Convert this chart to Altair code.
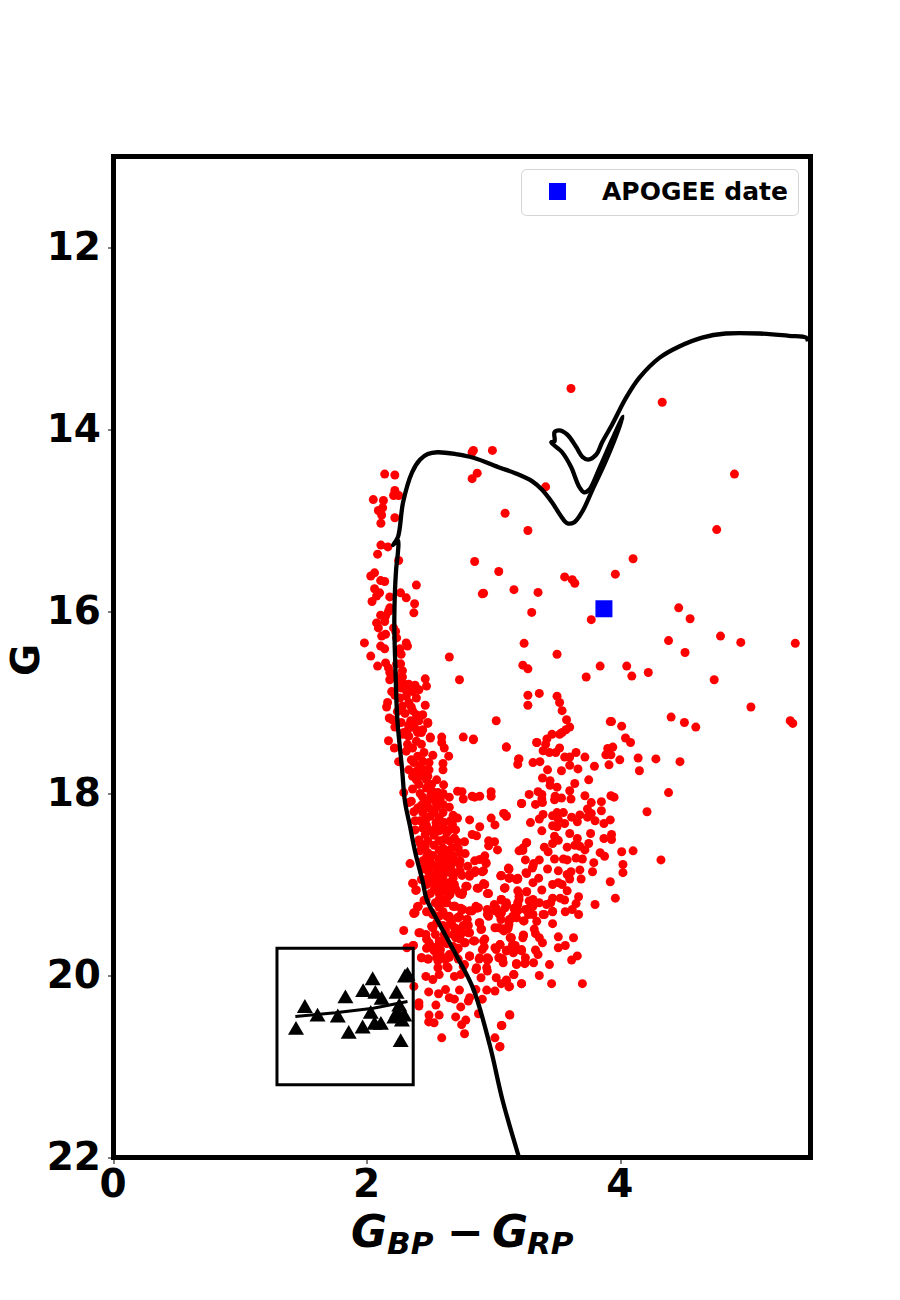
import altair as alt
import pandas as pd

# (G_BP-G_RP, G), by region
sparse_top = [(3.61,13.55),(4.33,13.70),(4.90,14.49),(2.84,14.23),(2.83,14.25),(2.99,14.23),(2.87,14.48),(2.83,14.54),(3.41,14.63),(3.09,14.92),(3.27,15.11),(4.76,15.10),(2.85,15.45),(4.10,15.42),(3.04,15.56),(3.56,15.62),(3.62,15.65),(3.64,15.69),(3.96,15.59),(3.16,15.76),(3.35,15.79),(2.92,15.80),(4.46,15.96),(4.55,16.08),(3.30,16.01),(3.77,16.09),(4.79,16.27),(4.38,16.32),(4.95,16.34),(5.38,16.35),(3.24,16.35),(4.05,16.60),(3.84,16.60),(4.51,16.45),(3.50,16.47),(3.23,16.59),(3.27,16.63),(4.22,16.67),(4.09,16.71),(3.73,16.72),(4.74,16.75),(2.73,16.75),(2.65,16.50),(5.03,17.05),(3.02,17.20),(3.93,17.21),(5.34,17.20),(5.36,17.23)]

right_upper = [(3.27,16.92),(3.36,16.90),(3.27,17.03),(3.50,16.93),(3.52,17.00),(3.54,17.09),(3.575,17.19),(3.60,17.27),(3.57,17.30),(3.54,17.33),(3.52,17.35),(3.46,17.35),(3.42,17.40),(3.34,17.44),(3.41,17.46),(3.10,17.49),(3.39,17.53),(3.44,17.55),(3.49,17.55),(3.52,17.50),(3.56,17.60),(3.60,17.60),(3.65,17.55),(3.72,17.60),(3.20,17.62),(3.19,17.68),(3.31,17.66),(3.365,17.65),(3.425,17.74),(3.535,17.75),(3.60,17.69),(3.665,17.73),(3.795,17.70),(3.92,17.21),(4.01,17.26),(4.04,17.39),(4.08,17.44),(4.40,17.16),(4.505,17.22),(4.595,17.27),(3.94,17.49),(3.90,17.505),(3.885,17.575),(3.925,17.575),(3.995,17.63),(4.14,17.61),(4.28,17.62),(4.47,17.65),(3.91,17.685),(4.15,17.75),(3.385,17.83),(3.445,17.86),(3.445,17.91),(3.50,17.93),(3.75,17.85),(3.64,17.89),(3.60,17.97),(3.35,17.98),(3.28,18.01),(3.38,18.01),(3.485,18.03),(3.535,18.05),(3.48,18.07),(3.61,18.06),(3.72,18.025),(3.925,18.025),(3.95,18.04),(4.38,17.99),(3.22,18.11),(3.33,18.12),(3.385,18.10),(3.38,18.06),(3.77,18.10),(3.85,18.09),(3.74,18.17),(3.85,18.19),(4.21,18.20),(3.08,18.22),(3.10,18.25),(3.39,18.23),(3.50,18.21),(3.55,18.21),(3.465,18.245),(3.615,18.26),(3.68,18.235),(3.74,18.26),(3.77,18.22),(3.36,18.28),(3.51,18.285),(3.66,18.31),(3.80,18.30),(3.92,18.29),(3.87,18.33),(3.29,18.32),(3.465,18.355),(3.50,18.365),(3.56,18.33),(3.38,18.41),(3.60,18.44),(3.765,18.44),(3.48,18.47),(3.66,18.495),(3.87,18.495),(3.93,18.45),(3.93,18.505),(3.51,18.515),(3.465,18.55),(3.26,18.54),(3.58,18.59),(3.64,18.57),(3.75,18.55),(3.40,18.59),(3.43,18.64),(3.23,18.625),(3.20,18.63),(3.68,18.58),(3.72,18.62),(3.84,18.65),(3.875,18.69),(4.01,18.64),(4.10,18.63),(4.32,18.73),(3.25,18.73),(3.36,18.73),(3.315,18.77),(3.48,18.72),(3.55,18.72),(3.58,18.73),(3.65,18.71),(3.70,18.72),(3.79,18.76),(4.02,18.78),(4.02,18.87),(3.12,18.83),(3.305,18.82),(3.425,18.83),(3.51,18.85),(3.68,18.84),(3.78,18.86),(3.61,18.86),(3.58,18.89)]

right_lower = [(3.92,18.97),(3.96,19.15),(3.80,19.22),(3.69,18.94),(3.60,18.94),(3.51,18.98),(3.465,19.0),(3.54,19.0),(3.58,19.07),(3.38,19.06),(3.31,18.98),(3.26,18.88),(3.355,18.93),(3.19,18.94),(3.125,18.93),(3.06,18.905),(3.085,19.04),(3.20,19.13),(3.26,19.08),(3.31,19.165),(3.465,19.15),(3.525,19.15),(3.56,19.17),(3.67,19.135),(3.65,19.21),(3.62,19.275),(3.565,19.30),(3.67,19.33),(3.465,19.30),(3.39,19.33),(3.36,19.20),(3.417,19.22),(3.45,19.20),(3.165,19.275),(3.10,19.22),(3.06,19.17),(3.19,19.20),(3.27,19.275),(3.29,19.24),(3.31,19.33),(3.275,19.33),(3.18,19.365),(3.235,19.40),(3.125,19.385),(3.12,19.44),(3.34,19.405),(3.465,19.43),(3.06,19.31),(3.057,19.385),(3.07,19.49),(3.11,19.49),(3.32,19.49),(3.235,19.555),(3.23,19.585),(3.13,19.585),(3.33,19.54),(3.36,19.585),(3.385,19.64),(3.51,19.575),(3.63,19.585),(3.565,19.67),(3.51,19.695),(3.15,19.66),(3.10,19.73),(3.165,19.73),(3.22,19.73),(3.33,19.72),(3.35,19.77),(3.66,19.785),(3.615,19.83),(3.25,19.805),(3.07,19.815),(3.18,19.87),(3.245,19.87),(3.315,19.86),(3.44,19.88),(3.05,19.66),(3.157,19.99),(3.36,20.0),(3.10,20.05),(3.22,20.09),(3.457,20.09),(3.70,20.09),(3.125,20.12),(3.06,20.09),(3.125,20.43),(3.06,20.55),(3.05,20.78)]

left_ridge = [(2.14,14.49),(2.22,14.50),(2.22,14.67),(2.21,14.725),(2.25,14.725),(2.05,14.77),(2.13,14.78),(2.124,14.86),(2.09,14.89),(2.116,14.94),(2.11,15.03),(2.22,14.97),(2.11,15.27),(2.165,15.29),(2.084,15.37),(2.25,15.44),(2.06,15.575),(2.03,15.61),(2.108,15.66),(2.14,15.67),(2.39,15.71),(2.06,15.75),(2.10,15.795),(2.076,15.83),(2.04,15.89),(2.18,15.84),(2.265,15.795),(2.31,15.85),(2.376,15.915),(2.37,16.015),(2.91,15.806),(2.18,15.96),(2.17,16.0),(2.108,16.04),(2.147,16.05),(2.076,16.125),(2.14,16.11),(2.09,16.18),(2.21,16.18),(2.116,16.27),(2.147,16.25),(2.226,16.22),(2.234,16.29),(1.98,16.345),(2.108,16.38),(2.14,16.41),(2.31,16.345),(2.32,16.38),(2.26,16.41),(2.27,16.47),(2.03,16.49),(2.084,16.60),(2.147,16.565),(2.17,16.62),(2.234,16.575),(2.266,16.575),(2.28,16.65),(2.18,16.67),(2.18,16.75),(2.46,16.74),(2.28,16.72),(2.47,16.82),(2.38,16.81),(2.41,16.86),(2.29,16.795),(2.36,16.88),(2.305,16.86),(2.195,16.88),(2.266,16.84),(2.46,17.03),(2.163,17.0),(2.155,17.05),(2.33,17.0),(2.28,17.04),(2.36,17.09),(2.44,17.135),(2.176,17.17),(2.39,17.135),(2.345,17.2),(2.41,17.18),(2.48,17.22),(2.44,17.30),(2.40,17.33),(2.29,17.33),(2.50,17.38),(2.59,17.38),(2.76,17.38),(2.84,17.40),(2.17,17.42),(2.22,16.7),(2.25,16.78),(2.22,16.92),(2.26,16.95),(2.31,16.93),(2.24,17.1),(2.30,17.12),(2.27,17.22),(2.33,17.25),(2.37,17.26),(2.22,17.27),(2.35,17.05),(2.39,16.95),(2.33,16.8),(2.32,17.36)]

core_upper = [(2.20,17.19),(2.36,17.22),(2.41,17.2),(2.48,17.23),(2.216,17.50),(2.25,17.65),(2.29,17.99),(2.33,17.28),(2.39,17.30),(2.43,17.33),(2.28,17.35),(2.33,17.37),(2.39,17.425),(2.32,17.46),(2.43,17.46),(2.36,17.50),(2.31,17.535),(2.45,17.55),(2.40,17.59),(2.35,17.63),(2.52,17.58),(2.50,17.39),(2.59,17.44),(2.61,17.50),(2.645,17.59),(2.60,17.67),(2.60,17.74),(2.84,17.41),(3.10,17.49),(3.196,17.62),(3.34,17.44),(2.37,17.66),(2.44,17.645),(2.49,17.66),(2.33,17.74),(2.39,17.755),(2.45,17.74),(2.49,17.74),(2.36,17.81),(2.43,17.81),(2.48,17.81),(2.55,17.85),(2.605,17.905),(2.36,17.95),(2.41,17.90),(2.47,17.94),(2.56,17.99),(2.505,18.01),(2.44,18.04),(2.715,17.975),(2.75,17.98),(2.65,18.04),(2.76,18.06),(2.83,18.03),(2.85,18.04),(2.89,18.03),(2.98,17.98),(2.98,18.03),(2.35,18.085),(2.48,18.085),(2.545,18.10),(2.60,18.12),(2.40,18.16),(2.49,18.16),(2.44,18.21),(2.53,18.21),(2.60,18.21),(2.68,18.24),(2.715,18.27),(2.81,18.29),(2.98,18.27),(3.08,18.22),(3.10,18.245),(3.22,18.11),(2.38,18.30),(2.465,18.285),(2.545,18.32),(2.61,18.32),(2.675,18.34),(2.89,18.365),(3.01,18.345),(2.44,18.38),(2.505,18.41),(2.57,18.41),(2.63,18.43),(2.83,18.45),(2.865,18.465),(2.41,18.51),(2.48,18.52),(2.61,18.505),(2.69,18.49),(2.715,18.535),(2.77,18.53),(2.96,18.52),(3.007,18.53),(2.96,18.575),(3.03,18.62),(3.26,18.54),(3.23,18.60),(2.42,18.63),(2.48,18.65),(2.60,18.60),(2.635,18.63),(2.73,18.65),(2.775,18.66),(2.68,18.69),(2.93,18.685),(2.89,18.725),(2.94,18.76),(2.85,18.74),(2.795,18.80),(2.34,18.77),(2.44,18.74),(2.505,18.76),(2.57,18.725),(2.63,18.76),(2.73,18.78),(2.48,18.85),(2.56,18.85),(2.62,18.835),(2.70,18.87),(2.85,18.87),(2.91,18.86),(2.81,18.91),(3.12,18.83),(3.055,18.905),(3.12,18.93),(3.19,18.93),(3.255,18.87),(3.31,18.80)]

core_fill = [(2.42,17.7),(2.47,17.85),(2.39,17.85),(2.51,17.9),(2.52,17.98),(2.42,18.0),(2.53,18.05),(2.47,18.12),(2.55,18.15),(2.43,18.13),(2.5,18.25),(2.57,18.27),(2.42,18.3),(2.47,18.35),(2.54,18.38),(2.6,18.37),(2.65,18.4),(2.53,18.46),(2.46,18.45),(2.57,18.52),(2.65,18.52),(2.53,18.57),(2.46,18.58),(2.57,18.62),(2.67,18.6),(2.52,18.68),(2.59,18.68),(2.64,18.7),(2.47,18.7),(2.53,18.8),(2.6,18.8),(2.66,18.81),(2.44,18.83),(2.52,18.9),(2.57,18.92),(2.68,18.93),(2.47,19.0),(2.55,19.02),(2.6,19.0),(2.69,19.0),(2.5,19.1),(2.66,19.08),(2.57,19.1),(2.63,19.2),(2.57,19.25),(2.47,19.3),(2.6,19.3),(2.66,19.42),(2.6,19.45),(2.55,19.42),(2.62,19.5),(2.68,19.55),(2.57,19.62),(2.63,19.65),(2.72,19.7),(2.76,19.45),(2.8,19.45),(2.65,19.8),(2.72,19.82),(2.55,19.8),(2.47,19.7),(2.74,19.55),(2.33,18.1),(2.37,18.2),(2.38,18.4),(2.42,18.55),(2.45,18.95),(2.66,18.3),(2.7,18.4),(2.72,18.6),(2.68,18.75),(2.75,18.9),(2.7,19.05),(2.65,18.15),(2.6,18.0),(2.58,18.05)]

core_middle = [(2.36,18.985),(2.43,18.945),(2.49,18.98),(2.58,18.945),(2.64,18.98),(2.78,19.02),(2.92,18.99),(2.87,19.04),(3.086,19.04),(2.385,19.065),(2.53,19.055),(2.60,19.07),(2.73,19.10),(2.755,19.09),(2.95,19.10),(3.19,19.07),(3.26,19.08),(2.40,19.245),(2.37,19.31),(2.466,19.165),(2.57,19.165),(2.64,19.13),(2.68,19.24),(2.755,19.275),(2.81,19.29),(2.86,19.24),(2.95,19.275),(3.005,19.22),(3.06,19.165),(3.10,19.20),(3.16,19.26),(3.20,19.165),(3.28,19.18),(3.31,19.24),(3.40,19.33),(3.465,19.295),(2.57,19.35),(2.65,19.35),(2.73,19.35),(3.045,19.33),(3.15,19.35),(2.47,18.78),(2.55,18.80),(2.615,18.76),(2.735,18.74),(2.51,18.89),(2.60,18.91),(2.655,18.87),(2.735,18.85),(2.81,18.89),(2.855,18.85),(2.92,18.85),(2.94,18.77),(3.06,18.90),(3.13,18.925),(3.18,18.945),(3.116,18.82),(3.09,19.035),(2.63,19.04),(2.54,18.98),(2.485,18.925)]

core_lower = [(2.366,18.99),(2.39,19.06),(2.405,19.24),(2.38,19.31),(2.29,19.505),(2.42,19.53),(2.315,19.695),(2.366,19.67),(2.43,19.805),(2.485,19.82),(2.51,19.46),(2.47,19.60),(2.54,19.55),(2.51,19.68),(2.58,19.715),(2.54,19.20),(2.51,19.31),(2.63,19.35),(2.655,19.11),(2.59,19.05),(2.615,19.165),(2.695,19.24),(2.75,19.275),(2.67,19.44),(2.71,19.49),(2.735,19.60),(2.775,19.64),(2.80,19.53),(2.85,19.62),(2.72,19.365),(2.79,19.385),(2.83,19.29),(2.88,19.255),(2.68,19.68),(2.616,19.585),(2.79,19.02),(2.75,19.11),(2.88,19.04),(2.93,19.0),(2.96,19.10),(2.89,19.42),(2.905,19.49),(2.93,19.60),(2.925,19.685),(3.01,19.695),(3.05,19.66),(2.96,19.35),(3.01,19.29),(3.06,19.165),(3.09,19.255),(3.13,19.385),(3.01,19.475),(3.075,19.49),(3.115,19.475),(3.14,19.585),(3.11,19.72),(3.17,19.67),(3.155,19.75),(2.81,19.785),(2.89,19.805),(2.96,19.82),(3.05,19.805),(3.075,19.86),(3.18,19.88),(2.63,19.9),(2.56,19.915),(2.76,19.9),(2.865,19.915),(2.945,19.915)]

bottom_edge = [(2.366,19.67),(2.37,19.32),(2.40,19.245),(2.45,19.175),(2.41,19.53),(2.465,19.55),(2.52,19.46),(2.49,19.64),(2.57,19.66),(2.61,19.55),(2.53,19.73),(2.43,19.805),(2.48,19.82),(2.56,19.84),(2.62,19.825),(2.69,19.75),(2.81,19.79),(2.885,19.82),(2.95,19.805),(3.04,19.805),(2.465,20.01),(2.52,20.045),(2.57,19.99),(2.64,19.915),(2.69,20.01),(2.74,19.99),(2.77,19.88),(2.86,19.935),(2.95,19.95),(2.90,20.025),(3.02,20.025),(3.10,20.06),(3.16,19.99),(3.22,20.09),(3.12,20.125),(3.01,20.17),(2.945,20.16),(2.86,20.155),(2.37,20.12),(2.487,20.18),(2.565,20.2),(2.62,20.155),(2.73,20.16),(2.91,20.26),(2.81,20.245),(2.65,20.245),(2.69,20.26),(2.41,20.30),(2.544,20.325),(2.74,20.345),(2.80,20.28),(2.88,20.42),(2.49,20.435),(2.57,20.435),(2.487,20.51),(2.53,20.52),(2.70,20.455),(2.78,20.49),(2.747,20.54),(2.77,20.64),(2.59,20.685),(3.128,20.435),(3.065,20.55),(3.01,20.685),(3.047,20.785),(2.41,20.335),(2.52,19.33),(2.56,19.22),(2.62,19.2),(2.69,19.24),(2.74,19.26),(2.81,19.29),(2.87,19.26),(2.95,19.33),(3.02,19.26),(3.10,19.22),(3.19,19.22),(3.25,19.275),(3.06,19.31),(3.12,19.40),(3.19,19.29),(3.24,19.40),(2.886,19.42),(2.90,19.495),(3.04,19.476),(3.08,19.51),(3.135,19.585),(3.235,19.56),(2.65,19.365),(2.715,19.365),(2.79,19.385),(2.52,19.475),(2.69,19.475),(2.74,19.495),(2.81,19.53),(2.62,19.57),(2.70,19.585),(2.77,19.64),(2.84,19.62),(2.92,19.62),(3.02,19.715),(2.91,19.715),(3.10,19.725),(3.15,19.66),(3.22,19.715),(2.81,19.785),(2.95,19.83),(3.06,19.815),(3.18,19.87),(3.25,19.86),(2.70,19.73),(2.65,19.77),(2.58,19.77),(2.52,19.695)]

triangles = [(1.44,20.575),(1.51,20.335),(1.61,20.43),(1.77,20.44),(1.83,20.23),(1.856,20.62),(1.97,20.16),(1.966,20.56),(2.045,20.03),(2.066,20.18),(2.116,20.245),(2.03,20.40),(2.06,20.52),(2.11,20.52),(2.234,20.18),(2.30,20.0),(2.32,19.98),(2.255,20.32),(2.216,20.45),(2.24,20.39),(2.295,20.43),(2.276,20.485),(2.266,20.71)]

iso_x = [3.20,3.07,2.97,2.84,2.71,2.55,2.47,2.44,2.38,2.34,2.30,2.277,2.24,2.224,2.216,2.23,2.245,2.245,2.206,2.245,2.285,2.356,2.42,2.48,2.555,2.70,2.84,3.05,3.17,3.305,3.38,3.46,3.53,3.58,3.635,3.70,3.78,3.89,4.02,3.935,3.83,3.755,3.715,3.675,3.61,3.54,3.454,3.48,3.48,3.517,3.58,3.65,3.70,3.746,3.81,3.856,3.935,4.045,4.15,4.31,4.46,4.645,4.83,5.095,5.33,5.465,5.48]
iso_y = [22.0,21.37,20.77,20.15,19.79,19.38,19.16,18.97,18.64,18.36,18.09,17.73,17.19,16.6,16.09,15.54,15.34,15.22,15.27,15.18,14.80,14.47,14.33,14.27,14.25,14.27,14.31,14.42,14.48,14.57,14.66,14.80,14.95,15.03,15.02,14.90,14.66,14.33,13.86,14.11,14.44,14.66,14.69,14.63,14.41,14.25,14.14,14.13,14.03,14.01,14.055,14.19,14.30,14.33,14.275,14.14,13.945,13.65,13.43,13.21,13.09,12.99,12.945,12.945,12.97,12.99,13.03]

low_x = [1.435,1.75,2.05,2.32]
low_y = [20.45,20.41,20.36,20.285]

box_x = [1.29, 2.365]
box_y = [19.70, 21.20]

apogee = [(3.87,15.97)]
legend_label = "APOGEE date"
x_ticks = [0,2,4]
y_ticks = [12,14,16,18,20,22]
xlab = [("G",44,"left"),("BP",31,"left"),("\u2212",44,"left"),("G",44,"left"),("RP",31,"left")]

red = sparse_top+right_upper+right_lower+left_ridge+core_upper+core_fill+core_middle+core_lower+bottom_edge
df_red = pd.DataFrame(red,columns=["x","y"])
df_tri = pd.DataFrame(triangles,columns=["x","y"])
df_iso = pd.DataFrame({"x":iso_x,"y":iso_y,"o":range(len(iso_x))})
df_low = pd.DataFrame({"x":low_x,"y":low_y,"o":range(len(low_x))})
df_box = pd.DataFrame({"x":[box_x[0]],"x2":[box_x[1]],"y":[box_y[0]],"y2":[box_y[1]]})
df_ap = pd.DataFrame(apogee,columns=["x","y"]); df_ap["s"]=legend_label

FONT="DejaVu Sans"
X = alt.X("x:Q",scale=alt.Scale(domain=[0,5.5],nice=False,zero=False),
    axis=alt.Axis(values=x_ticks,grid=False,domain=False,tickColor="black",tickWidth=1,tickSize=6,
        labelFont=FONT,labelFontSize=39,labelFontWeight="bold",labelColor="black",labelPadding=2,labelOffset=-1,
        labelFlush=False,format="d",title=None))
Y = alt.Y("y:Q",scale=alt.Scale(domain=[22,11],nice=False,zero=False),
    axis=alt.Axis(values=y_ticks,grid=False,domain=False,tickColor="black",tickWidth=1,tickSize=6,
        labelFont=FONT,labelFontSize=39,labelFontWeight="bold",labelColor="black",labelPadding=7,
        labelFlush=False,format="d",title="G",titleFont=FONT,titleFontSize=39,titleFontWeight="bold",
        titleColor="black",titleAngle=270,titleAlign="center",titleBaseline="alphabetic",titleX=-75.5,titleY=503))

points = alt.Chart(df_red).mark_circle(color="#ff0000",size=81,opacity=1).encode(x=X,y=Y)
iso = alt.Chart(df_iso).mark_line(color="black",strokeWidth=4.3,clip=True,interpolate="catmull-rom").encode(x=X,y=Y,order="o:Q")
low = alt.Chart(df_low).mark_line(color="black",strokeWidth=3,clip=True).encode(x=X,y=Y,order="o:Q")
box = alt.Chart(df_box).mark_rect(fill=None,stroke="black",strokeWidth=3).encode(x=X,x2="x2:Q",y=Y,y2="y2:Q")
tri = alt.Chart(df_tri).mark_point(shape="triangle-up",filled=True,color="black",size=256,opacity=1).encode(x=X,y=Y)
ap = alt.Chart(df_ap).mark_square(size=289,opacity=1).encode(x=X,y=Y,
    color=alt.Color("s:N",scale=alt.Scale(domain=[legend_label],range=["#0000ff"]),
        legend=alt.Legend(title=None,orient="none",legendX=407.5,legendY=12.5,padding=10,cornerRadius=5,
            strokeColor="#d5d5d5",fillColor="white",labelFont=FONT,labelFontSize=25,labelFontWeight="bold",
            labelColor="black",labelOffset=32,labelLimit=400,symbolSize=289,symbolOffset=14,symbolStrokeWidth=0,symbolOpacity=1)))

positions=[351,387,447,492,527]
texts=[]
for (t,fs,al),px in zip(xlab,positions):
    base = 1247 if fs==44 else 1254
    texts.append(alt.Chart(pd.DataFrame({"t":[t]})).mark_text(font=FONT,fontSize=fs,fontWeight="bold",fontStyle="italic",
        align=al,baseline="alphabetic",color="black").encode(x=alt.value(px-113.5),y=alt.value(base-156.5),text="t:N"))

chart = alt.layer(points,box,low,iso,tri,ap,*texts).resolve_scale(color="independent").properties(
    width=697,height=1001,autosize=alt.AutoSizeParams(type="none"),
    padding={"left":105.5,"top":148.5,"right":70,"bottom":125},background="white"
).configure_view(stroke="black",strokeWidth=5)
chart.save("out.html", embed_options={"renderer": "svg", "actions": False})
